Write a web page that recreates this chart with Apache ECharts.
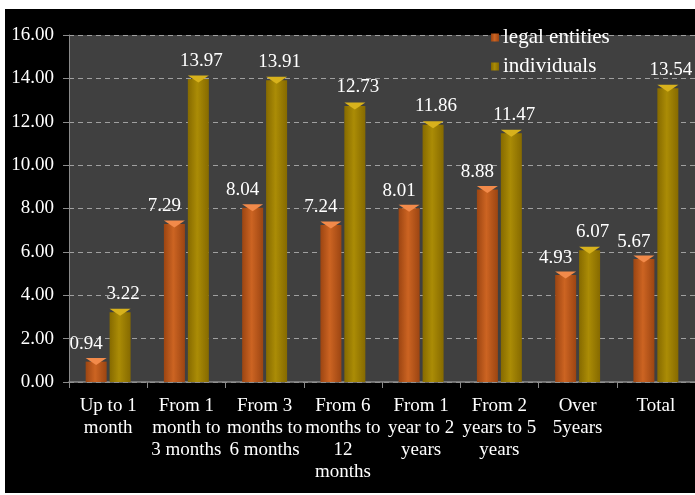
<!DOCTYPE html>
<html>
<head>
<meta charset="utf-8">
<script src="https://cdn.jsdelivr.net/npm/echarts@6/dist/echarts.min.js"></script>
<style>
html,body{margin:0;padding:0;background:#fff;width:695px;height:495px;overflow:hidden;}
#chart{position:absolute;left:5px;top:9px;width:690px;height:484px;background:#000;}
</style>
</head>
<body>
<div id="chart"></div>
<script>
var categories = ["Up to 1\nmonth", "From 1\nmonth to\n3 months", "From 3\nmonths to\n6 months", "From 6\nmonths to\n12\nmonths", "From 1\nyear to 2\nyears", "From 2\nyears to 5\nyears", "Over\n5years", "Total"];
var legalEntities = [0.94, 7.29, 8.04, 7.24, 8.01, 8.88, 4.93, 5.67];
var individuals = [3.22, 13.97, 13.91, 12.73, 11.86, 11.47, 6.07, 13.54];
var seriesNames = ["legal entities", "individuals"];

var font = "'Liberation Serif', 'Times New Roman', serif";
function grad(dark, light) {
  return new echarts.graphic.LinearGradient(0, 0, 1, 0, [
    {offset: 0, color: dark}, {offset: 0.45, color: light}, {offset: 1, color: dark}
  ]);
}
var orange = grad('#9c4512', '#cc6422');
var gold = grad('#866a00', '#ab8c06');
var chart = echarts.init(document.getElementById('chart'), null, {renderer: 'canvas'});
chart.setOption({
  backgroundColor: '#000',
  animation: false,
  textStyle: {fontFamily: font},
  grid: {left: 64, top: 26, width: 632, bottom: 111, show: true, backgroundColor: '#404040', borderWidth: 0},
  legend: {
    data: seriesNames,
    orient: 'vertical', left: 481, top: 13, itemWidth: 8, itemHeight: 8, itemGap: 8,
    textStyle: {color: '#fff', fontSize: 21, fontFamily: font, padding: [0, 0, 0, -1]},
    icon: 'rect'
  },
  xAxis: {
    type: 'category', data: categories,
    axisLine: {lineStyle: {color: '#8a8a8a', width: 1.5}},
    axisTick: {show: true, length: 6, lineStyle: {color: '#8a8a8a'}},
    axisLabel: {color: '#fff', fontSize: 19, fontFamily: font, lineHeight: 22, margin: 13, interval: 0}
  },
  yAxis: {
    type: 'value', min: 0, max: 16, interval: 2,
    axisLine: {show: true, lineStyle: {color: '#8a8a8a'}},
    axisTick: {show: true, length: 6, lineStyle: {color: '#8a8a8a'}},
    axisLabel: {color: '#fff', fontSize: 19, fontFamily: font, margin: 15, formatter: function(v){return v.toFixed(2);}},
    splitLine: {lineStyle: {color: '#a0a0a0', type: [5, 4], width: 1}}
  },
  series: [
    {name: seriesNames[0], type: 'bar', data: legalEntities, barWidth: 21, barGap: '14%',
     itemStyle: {color: orange},
     label: {show: true, position: 'top', distance: 8, offset: [-10, 0], color: '#fff', fontSize: 19, fontFamily: font, formatter: function(p){return p.value.toFixed(2);}}},
    {name: seriesNames[1], type: 'bar', data: individuals, barWidth: 21, barGap: '14%',
     itemStyle: {color: gold},
     label: {show: true, position: 'top', distance: 9, offset: [3, 0], color: '#fff', fontSize: 19, fontFamily: font, formatter: function(p){return p.value.toFixed(2);}}},
    {type: 'pictorialBar', data: legalEntities, barWidth: 21, barGap: '14%', silent: true, z: 3,
     symbol: 'path://M0,0 L10,0 L5,4 Z', symbolSize: [21, 7], symbolPosition: 'end', symbolOffset: [0, '-50%'],
     itemStyle: {color: '#f28a4a'}, tooltip: {show: false}},
    {type: 'pictorialBar', data: individuals, barWidth: 21, barGap: '14%', silent: true, z: 3,
     symbol: 'path://M0,0 L10,0 L5,4 Z', symbolSize: [21, 7], symbolPosition: 'end', symbolOffset: [0, '-50%'],
     itemStyle: {color: '#d8b21c'}, tooltip: {show: false}}
  ]
});
</script>
</body>
</html>
